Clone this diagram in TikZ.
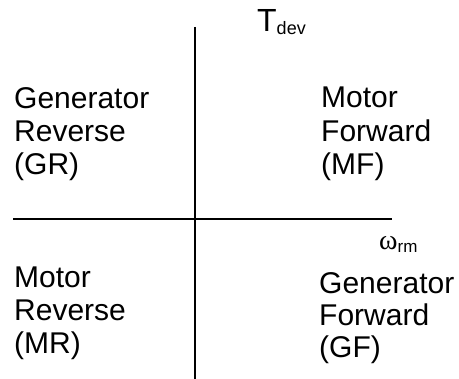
\documentclass[tikz,border=0pt]{standalone}
\usepackage{fontspec}
\setmainfont{Liberation Sans}
\newfontfamily\greekfont{Liberation Serif}
\begin{document}
\begin{tikzpicture}[x=1pt,y=-1pt,
  lbl/.style={anchor=base west, inner sep=0pt, font=\fontsize{30}{33}\selectfont},
  axisline/.style={line width=2pt, black}]
\useasboundingbox (0,0) rectangle (459,379);
\coordinate (vtop) at (195,27);
\coordinate (vbot) at (195,379);
\coordinate (hleft) at (13,219);
\coordinate (hright) at (392,219);
\draw[axisline] (vtop) -- (vbot);
\draw[axisline] (hleft) -- (hright);
% Generator Reverse
\node[lbl] (gr1) at (14,109) {Generator};
\node[lbl] (gr2) at (14,142) {Reverse};
\node[lbl] (gr3) at (14,175) {(GR)};
% Motor Forward
\node[lbl] (mf1) at (321,108) {Motor};
\node[lbl] (mf2) at (321,142) {Forward};
\node[lbl] (mf3) at (321,175) {(MF)};
% Motor Reverse
\node[lbl] (mr1) at (14,288) {Motor};
\node[lbl] (mr2) at (14,321) {Reverse};
\node[lbl] (mr3) at (14,354) {(MR)};
% Generator Forward
\node[lbl] (gf1) at (319,294) {Generator};
\node[lbl] (gf2) at (319,326) {Forward};
\node[lbl] (gf3) at (319,358) {(GF)};
% axis labels
\node[anchor=base west, inner sep=0pt, font=\fontsize{32}{32}\selectfont] (tdev) at (257,32)
  {T\raisebox{-3pt}{\fontsize{18}{18}\selectfont dev}};
\node[anchor=base west, inner sep=0pt] (wrm) at (379,250)
  {{\greekfont\fontsize{28}{28}\selectfont ω}\raisebox{-3pt}{\fontsize{17}{17}\selectfont rm}};
\end{tikzpicture}
\end{document}
